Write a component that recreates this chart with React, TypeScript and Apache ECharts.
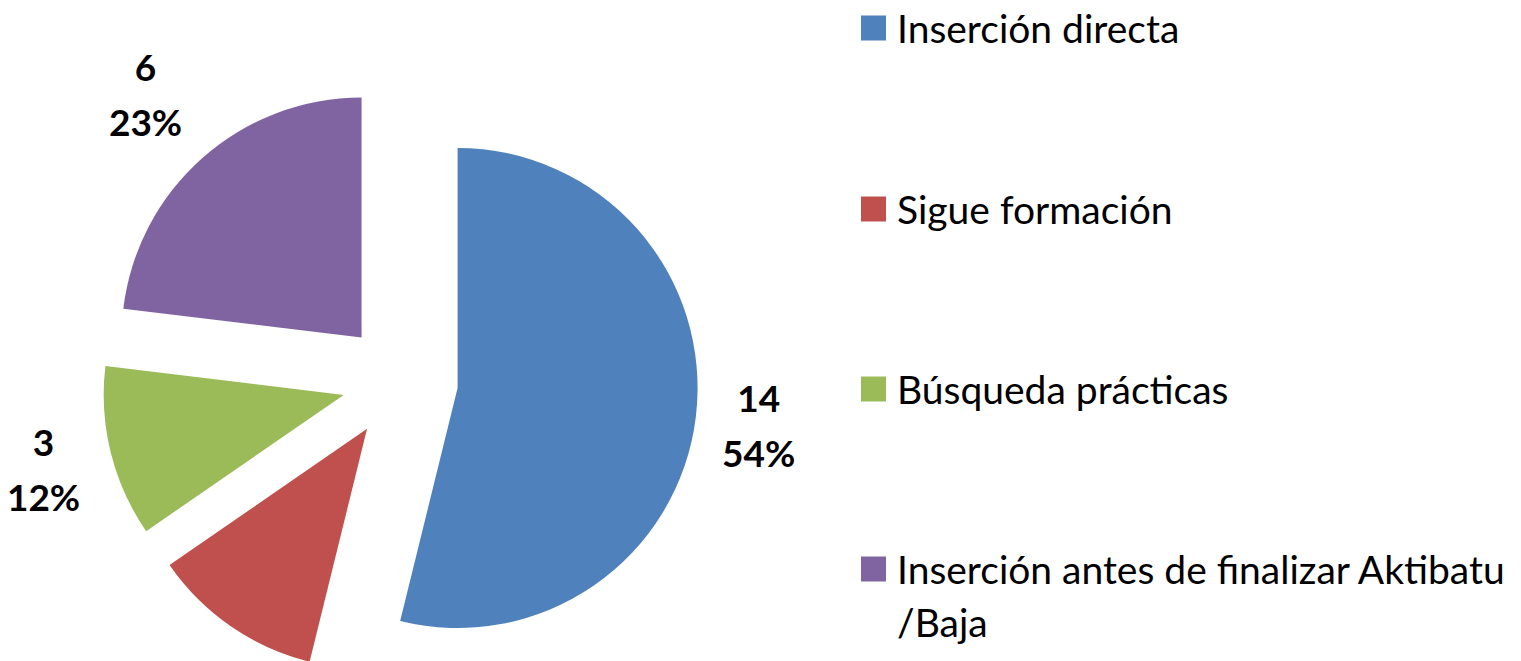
import React, { useEffect, useRef } from "react";
import * as echarts from "echarts";

const categories = [
  "Inserción directa",
  "Sigue formación",
  "Búsqueda prácticas",
  "Inserción antes de finalizar Aktibatu /Baja",
];
const values = [14, 3, 3, 6];
const showLabel = [true, false, true, true];
const colors = ["#4F81BD", "#C0504D", "#9BBB59", "#8064A2"];
const legendIconCenters = [28, 209, 389, 569];

const FONT = "Lato";
const CX = 400;
const CY = 381;
const R = 240;
const OFFSET = 58;
const LEGEND_LINE = 53;
const LABEL_W = 74;
const LABEL_H = 110;

export default function App() {
  const ref = useRef<HTMLDivElement>(null);
  useEffect(() => {
    if (!ref.current) return;
    const chart = echarts.init(ref.current, undefined, { renderer: "svg" });
    const total = values.reduce((a, b) => a + b, 0);

    const legends = categories.map((name, i) => {
      const last = i === categories.length - 1;
      return {
        orient: "vertical",
        left: 861,
        top: last
          ? legendIconCenters[i] - LEGEND_LINE * 1.5
          : legendIconCenters[i] - LEGEND_LINE / 2,
        padding: 0,
        itemWidth: 25,
        itemHeight: 25,
        icon: "rect",
        selectedMode: false,
        data: [name],
        formatter: (n: string) =>
          last ? "\n" + n.replace(" /", "\n/") : n,
        textStyle: {
          fontFamily: FONT,
          fontSize: 39,
          color: "#000",
          lineHeight: LEGEND_LINE,
          padding: [0, 0, 0, 6],
        },
      };
    });

    chart.setOption({
      animation: false,
      backgroundColor: "#fff",
      color: colors,
      legend: legends,
      series: [
        {
          type: "pie",
          center: [CX, CY],
          radius: R,
          startAngle: 90,
          clockwise: true,
          selectedMode: "multiple",
          selectedOffset: OFFSET,
          avoidLabelOverlap: false,
          emphasis: { disabled: true },
          data: categories.map((name, i) => ({
            name,
            value: values[i],
            selected: true,
          })),
          label: { show: false },
          labelLine: { show: false },
        },
        {
          type: "pie",
          center: [CX, CY],
          radius: R,
          startAngle: 90,
          clockwise: true,
          silent: true,
          selectedMode: false,
          avoidLabelOverlap: false,
          emphasis: { disabled: true },
          itemStyle: { color: "rgba(0,0,0,0)" },
          data: categories.map((name, i) => ({
            name,
            value: values[i],
            label: { show: showLabel[i] },
          })),
          label: {
            show: true,
            position: "outside",
            formatter: (p: any) => `${p.value}\n${Math.round(p.percent)}%`,
            fontFamily: FONT,
            fontWeight: "bold",
            fontSize: 37,
            lineHeight: 55,
            color: "#000",
          },
          labelLine: { show: false },
          labelLayout: (params: any) => {
            const idx = params.dataIndex;
            let acc = 0;
            for (let k = 0; k < idx; k++) acc += values[k];
            const mid = ((acc + values[idx] / 2) / total) * Math.PI * 2;
            const ux = Math.sin(mid);
            const uy = -Math.cos(mid);
            const ext =
              (LABEL_W / 2) * Math.abs(ux) + (LABEL_H / 2) * Math.abs(uy);
            const d = 318 + ext;
            return {
              x: CX + d * ux,
              y: CY + d * uy,
              align: "center",
              verticalAlign: "middle",
            };
          },
        },
      ],
    });
    return () => chart.dispose();
  }, []);
  return (
    <div
      ref={ref}
      style={{ position: "absolute", left: 0, top: 0, width: 1521, height: 661 }}
    />
  );
}
